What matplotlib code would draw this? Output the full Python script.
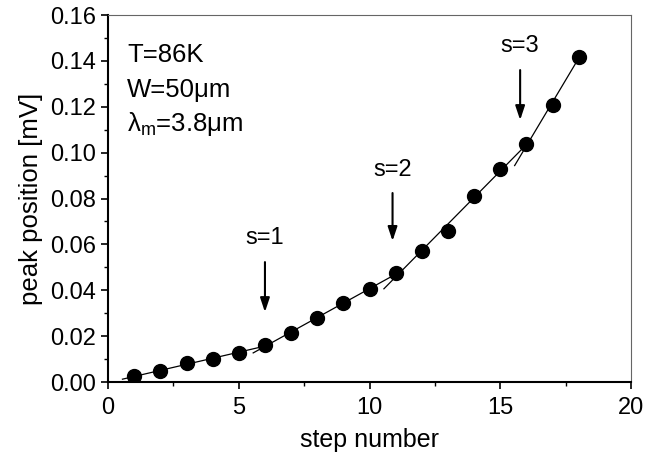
import matplotlib
matplotlib.use("Agg")
import matplotlib.pyplot as plt
import numpy as np
from matplotlib.ticker import MultipleLocator

plt.rcParams["font.family"] = ["Liberation Sans", "DejaVu Sans"]
plt.rcParams["mathtext.fontset"] = "custom"
plt.rcParams["mathtext.rm"] = "Liberation Sans"

# ---------------------------------------------------------------------------
# Data
# ---------------------------------------------------------------------------
steps = np.arange(1, 19)
peak_mV = [0.0026, 0.0048, 0.0083, 0.0100, 0.0126, 0.0161, 0.0214, 0.0279, 0.0344,
           0.0405, 0.0474, 0.0571, 0.0660, 0.0810, 0.0930, 0.1036, 0.1208, 0.1418]

# piecewise linear segments (first step, last step) between the s-transitions
segments = [(1, 6), (6, 11), (11, 16), (16, 18)]

s_labels = ["s=1", "s=2", "s=3"]
s_x      = [6.0, 10.88, 15.76]
s_top    = [0.0523, 0.0824, 0.1360]
s_tip    = [0.0305, 0.0615, 0.1142]
s_text_y = [0.0630, 0.0924, 0.1465]

info_lines = ["T=86K", "W=50μm", "λ$_\\mathrm{m}$=3.8μm"]

# ---------------------------------------------------------------------------
fig = plt.figure(figsize=(6.59, 4.62), dpi=100)
ax = fig.add_axes([0.164, 0.173, 0.7935, 0.7945])

y = np.array(peak_mV)
for i, (a, b) in enumerate(segments):
    mask = (steps >= a) & (steps <= b)
    k, c = np.polyfit(steps[mask], y[mask], 1)
    x0 = a - 0.45
    xs = np.array([x0, b])
    ax.plot(xs, k * xs + c, color="black", lw=0.9, zorder=2)

ax.plot(steps, peak_mV, "o", color="black", ms=10, zorder=3)

for lbl, xa, yt, yp, yl in zip(s_labels, s_x, s_top, s_tip, s_text_y):
    ax.annotate("", xy=(xa, yp), xytext=(xa, yt),
                arrowprops=dict(arrowstyle="-|>,head_length=0.6,head_width=0.2",
                                color="black", lw=1.5,
                                mutation_scale=14, shrinkA=0, shrinkB=0))
    ax.text(xa, yl, lbl, ha="center", va="center", fontsize=17)

for j, line in enumerate(info_lines):
    ax.text(0.036, 0.89 - j * 0.094, line, transform=ax.transAxes,
            ha="left", va="center", fontsize=18.5)

ax.set_xlim(0, 20)
ax.set_ylim(0, 0.16)
ax.xaxis.set_major_locator(MultipleLocator(5))
ax.xaxis.set_minor_locator(MultipleLocator(2.5))
ax.yaxis.set_major_locator(MultipleLocator(0.02))
ax.yaxis.set_minor_locator(MultipleLocator(0.01))
ax.yaxis.set_major_formatter(matplotlib.ticker.FormatStrFormatter("%.2f"))
ax.tick_params(which="major", direction="out", length=5, width=1.2, labelsize=17)
ax.tick_params(axis="x", which="major", pad=6)
ax.tick_params(which="minor", direction="out", length=3, width=1.0)
ax.tick_params(top=False, right=False)

for side in ("left", "bottom"):
    ax.spines[side].set_linewidth(1.5)
for side in ("top", "right"):
    ax.spines[side].set_linewidth(0.8)
    ax.spines[side].set_color("#666666")

ax.set_xlabel("step number", fontsize=18, labelpad=6)
ax.set_ylabel("peak position [mV]", fontsize=18.5, labelpad=5)

fig.savefig("out.png", dpi=100)
